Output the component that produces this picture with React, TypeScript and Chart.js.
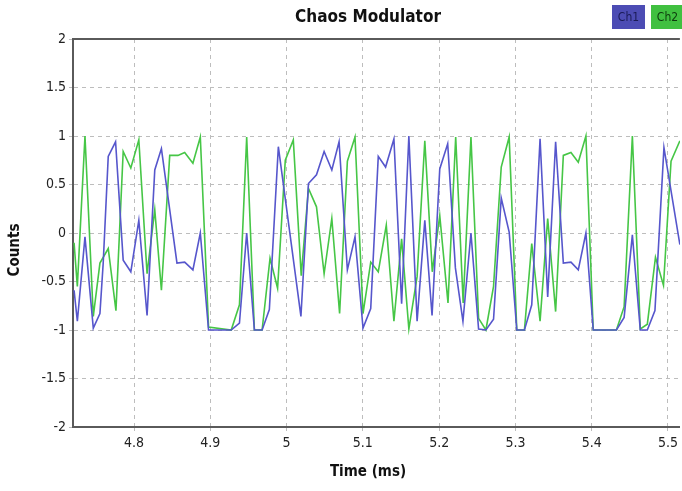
import React, { useEffect, useRef } from "react";
import { Chart, registerables } from "chart.js";

Chart.register(...registerables);

const TITLE = "Chaos Modulator";
const X_TITLE = "Time (ms)";
const Y_TITLE = "Counts";
const SERIES_NAMES = ["Ch1", "Ch2"];

const xTicks = [4.8, 4.9, 5.0, 5.1, 5.2, 5.3, 5.4, 5.5];
const yTicks = [-2, -1.5, -1, -0.5, 0, 0.5, 1, 1.5, 2];
const xMin = 4.72;
const xMax = 5.5156;

const ch1Time = [
  4.7214, 4.7257, 4.7357, 4.7466, 4.7553, 4.7596, 4.7662, 4.7758, 4.7858, 4.7958,
  4.8063, 4.8171, 4.8272, 4.8359, 4.8563, 4.8664, 4.8772, 4.8869, 4.8977, 4.9274,
  4.9382, 4.9477, 4.9578, 4.9679, 4.9774, 4.9892, 5.0188, 5.0287, 5.0392, 5.0492,
  5.0593, 5.0688, 5.0797, 5.0897, 5.1002, 5.1103, 5.1202, 5.1298, 5.1407, 5.1508,
  5.1603, 5.1711, 5.1812, 5.1907, 5.2008, 5.2112, 5.2213, 5.2312, 5.2417, 5.2517,
  5.2613, 5.2713, 5.2814, 5.2918, 5.3018, 5.3118, 5.3214, 5.3323, 5.3423, 5.3527,
  5.3628, 5.3728, 5.3824, 5.3924, 5.402, 5.4324, 5.4425, 5.4533, 5.4637, 5.4729,
  5.4829, 5.4947, 5.5156,
];
const ch1Counts = [
  -0.59, -0.91, -0.04, -0.98, -0.83, -0.31, 0.79, 0.94, -0.28, -0.4,
  0.13, -0.85, 0.65, 0.87, -0.31, -0.3, -0.38, 0.0, -1, -1,
  -0.93, 0.0, -1, -1, -0.79, 0.89, -0.86, 0.51, 0.6, 0.84,
  0.65, 0.94, -0.38, -0.04, -0.98, -0.78, 0.79, 0.68, 0.97, -0.73,
  1.0, -0.91, 0.13, -0.85, 0.66, 0.92, -0.36, -0.91, 0.0, -0.99,
  -1, -0.89, 0.36, 0.01, -1, -1, -0.74, 0.97, -0.66, 0.94,
  -0.31, -0.3, -0.38, 0.0, -1, -1, -0.87, -0.02, -1, -1,
  -0.8, 0.88, -0.12,
];

const ch2Time = [
  4.7214, 4.7257, 4.7357, 4.7466, 4.7553, 4.7662, 4.7763, 4.7858, 4.7958, 4.8063,
  4.8171, 4.8272, 4.8359, 4.8468, 4.8576, 4.8664, 4.8772, 4.8869, 4.8977, 4.9274,
  4.9382, 4.9477, 4.9578, 4.9679, 4.9783, 4.9882, 4.9983, 5.0088, 5.0192, 5.0287,
  5.0392, 5.0492, 5.0593, 5.0695, 5.0797, 5.0897, 5.1002, 5.1103, 5.1202, 5.1307,
  5.1407, 5.1508, 5.1603, 5.1711, 5.1812, 5.191, 5.2008, 5.2116, 5.2217, 5.2315,
  5.2417, 5.2517, 5.2613, 5.2713, 5.2814, 5.2918, 5.3018, 5.3118, 5.3214, 5.3323,
  5.3423, 5.3527, 5.3628, 5.3728, 5.3824, 5.3924, 5.402, 5.4324, 5.4425, 5.4533,
  5.4637, 5.4729, 5.4836, 5.4941, 5.504, 5.5156,
];
const ch2Counts = [
  -0.1, -0.55, 1.0, -0.86, -0.31, -0.16, -0.8, 0.84, 0.67, 0.96,
  -0.42, 0.24, -0.59, 0.8, 0.8, 0.83, 0.72, 0.99, -0.97, -1,
  -0.74, 0.99, -1, -1, -0.26, -0.57, 0.75, 0.96, -0.44, 0.46,
  0.27, -0.42, 0.15, -0.83, 0.74, 0.99, -0.83, -0.3, -0.4, 0.08,
  -0.91, -0.06, -0.99, -0.45, 0.95, -0.4, 0.18, -0.72, 0.99, -0.72,
  0.99, -0.88, -1, -0.55, 0.68, 0.99, -1, -1, -0.11, -0.91,
  0.15, -0.81, 0.8, 0.83, 0.73, 1.0, -1, -1, -0.76, 1.0,
  -0.99, -0.94, -0.25, -0.54, 0.74, 0.95,
];

const FONT = '"DejaVu Sans Condensed", "DejaVu Sans", sans-serif';
const CH1_COLOR = "#5656cc";
const CH2_COLOR = "#46c646";

const fmt = (v: number) => String(Number(Number(v).toFixed(1)));

export default function App() {
  const ref = useRef<HTMLCanvasElement>(null);

  useEffect(() => {
    document.body.style.margin = "0";
    const canvas = ref.current!;
    const decor = {
      id: "decor",
      afterDraw(chart: any) {
        const c = chart.ctx as CanvasRenderingContext2D;
        const a = chart.chartArea;
        c.save();
        c.strokeStyle = "#5a5a5a";
        c.lineWidth = 2;
        c.beginPath();
        c.moveTo(a.left - 1, a.top);
        c.lineTo(a.right, a.top);
        c.stroke();

        c.fillStyle = "#111";
        c.textAlign = "center";
        c.textBaseline = "middle";
        c.font = `bold 17px ${FONT}`;
        c.fillText(TITLE, 368, 18);
        c.font = `bold 15px ${FONT}`;
        c.fillText(X_TITLE, 368, 472);
        c.save();
        c.translate(15, 250);
        c.rotate(-Math.PI / 2);
        c.fillText(Y_TITLE, 0, 0);
        c.restore();

        const boxes = [
          { x: 612, fill: "#4c4cb4", text: "#1a1a55" },
          { x: 651, fill: "#40c040", text: "#0d3a0d" },
        ];
        c.font = `12px ${FONT}`;
        boxes.forEach((b, i) => {
          c.fillStyle = b.fill;
          c.fillRect(b.x, 5, 33, 24);
          c.fillStyle = b.text;
          c.fillText(SERIES_NAMES[i], b.x + 16.5, 17.5);
        });
        c.restore();
      },
    };

    const chart = new Chart(canvas, {
      type: "line",
      data: {
        datasets: [
          {
            label: SERIES_NAMES[0],
            data: ch1Time.map((t, i) => ({ x: t, y: ch1Counts[i] })),
            borderColor: CH1_COLOR,
            borderWidth: 1.6,
            pointRadius: 0,
            tension: 0,
            fill: false,
          },
          {
            label: SERIES_NAMES[1],
            data: ch2Time.map((t, i) => ({ x: t, y: ch2Counts[i] })),
            borderColor: CH2_COLOR,
            borderWidth: 1.6,
            pointRadius: 0,
            tension: 0,
            fill: false,
          },
        ],
      },
      options: {
        responsive: false,
        animation: false,
        layout: { padding: { top: 39, left: 0, right: 0, bottom: 0 } },
        plugins: {
          legend: { display: false },
          title: { display: false },
          tooltip: { enabled: false },
        },
        scales: {
          x: {
            type: "linear",
            min: xMin,
            max: xMax,
            afterBuildTicks: (axis: any) => {
              axis.ticks = xTicks.map((v) => ({ value: v }));
            },
            afterFit: (axis: any) => {
              axis.height = 64;
            },
            ticks: {
              callback: (v: any) => fmt(v),
              color: "#222",
              font: { family: FONT, size: 14 },
              padding: 4,
              maxRotation: 0,
              autoSkip: false,
            },
            grid: { color: "#bdbdbd", lineWidth: 1, tickLength: 4, tickColor: "#bdbdbd" },
            border: { display: true, color: "#5a5a5a", width: 2, dash: [4, 4] },
          },
          y: {
            type: "linear",
            min: -2,
            max: 2,
            afterBuildTicks: (axis: any) => {
              axis.ticks = yTicks.map((v) => ({ value: v }));
            },
            afterFit: (axis: any) => {
              axis.width = 73;
            },
            ticks: {
              callback: (v: any) => fmt(v),
              color: "#222",
              font: { family: FONT, size: 14 },
              padding: 3,
              autoSkip: false,
            },
            grid: { color: "#bdbdbd", lineWidth: 1, tickLength: 4, tickColor: "#bdbdbd" },
            border: { display: true, color: "#5a5a5a", width: 2, dash: [4, 4] },
          },
        },
      },
      plugins: [decor],
    } as any);

    return () => chart.destroy();
  }, []);

  return (
    <div style={{ position: "absolute", left: 0, top: 0, width: 682, height: 491, background: "#fff" }}>
      <canvas ref={ref} width={682} height={491} style={{ display: "block" }} />
    </div>
  );
}
